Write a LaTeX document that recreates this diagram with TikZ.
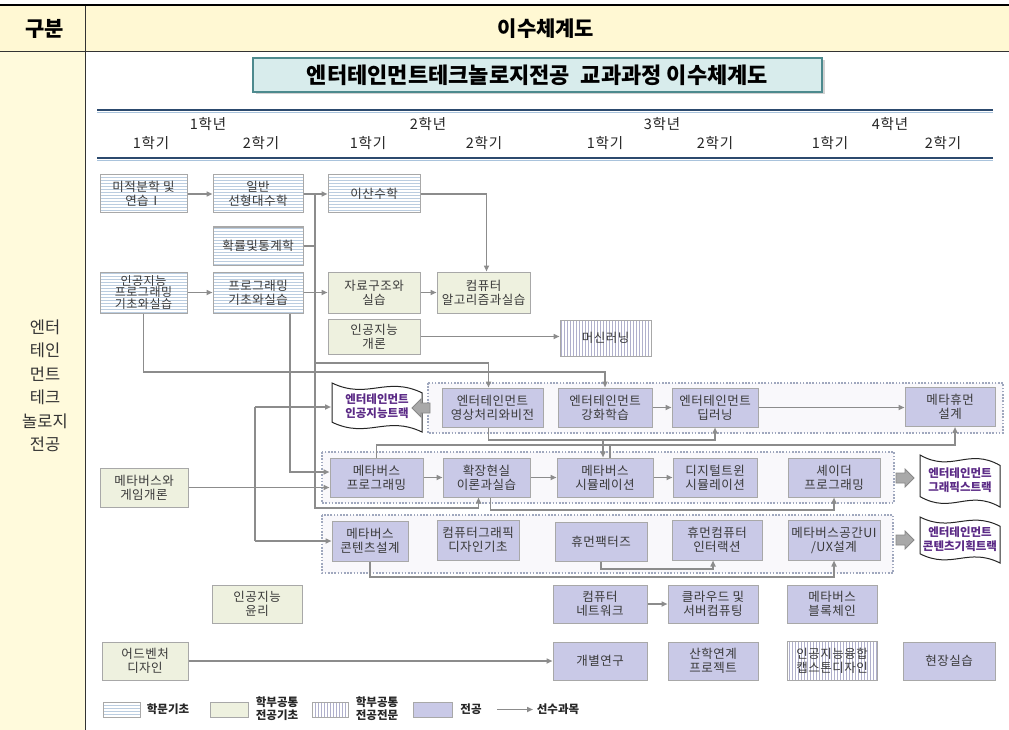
\documentclass[tikz,border=0pt]{standalone}
\usepackage{fontspec}
\setmainfont{Noto Sans CJK KR}
\newfontfamily\boxfont[LetterSpace=4]{Noto Sans CJK KR}
\newfontfamily\yearfont[LetterSpace=6]{Noto Sans CJK KR}
\usetikzlibrary{patterns,shadows,arrows.meta,calc}
\definecolor{hdryel}{HTML}{FFF8D3}
\definecolor{colyel}{HTML}{FFFADC}
\definecolor{boxline}{HTML}{A8A8A8}
\definecolor{majfill}{HTML}{C9C9E7}
\definecolor{greenfill}{HTML}{EEF1DF}
\definecolor{hatchH}{HTML}{BBCDE0}
\definecolor{hatchV}{HTML}{B0B0CC}
\definecolor{grpfill}{HTML}{F9F8FB}
\definecolor{grpline}{HTML}{A0A8BE}
\definecolor{arrgray}{HTML}{8C8C8C}
\definecolor{ttlfill}{HTML}{D8ECEC}
\definecolor{ttlline}{HTML}{4D8A8E}
\definecolor{yearline}{HTML}{2C4A6E}
\definecolor{yearglow}{HTML}{A9C3DC}
\definecolor{txtc}{HTML}{3A3A3A}
\definecolor{trackc}{HTML}{5B2A86}
\definecolor{blkfill}{HTML}{A9A9A9}
\definecolor{blkline}{HTML}{888888}
\newcommand\wavebanner[4]{%
  \draw[bannerline] (#1,#2) .. controls (#1+0.4*#3,#2+0.35*#4) and (#1+0.6*#3,#2-0.15*#4) .. (#1+#3,#2+0.2*#4)
    -- (#1+#3,#2+#4) .. controls (#1+0.6*#3,#2+0.65*#4) and (#1+0.4*#3,#2+1.15*#4) .. (#1,#2+0.8*#4) -- cycle;}
\begin{document}
\begin{tikzpicture}[x=1pt,y=-1pt,font=\boxfont\fontsize{12.5}{14}\selectfont,
  cbox/.style={draw=boxline,line width=1pt,align=center,text=txtc,inner sep=1pt,minimum height=38pt},
  hak/.style={cbox,preaction={fill=white},pattern=horizontal lines,pattern color=hatchH},
  gichu/.style={cbox,fill=greenfill},
  jeonmun/.style={cbox,preaction={fill=white},pattern=vertical lines,pattern color=hatchV},
  maj/.style={cbox,fill=majfill},
  grp/.style={draw=grpline,line width=1.6pt,dash pattern=on 1.6pt off 1.6pt,fill=grpfill},
  ln/.style={draw=arrgray,line width=1.5pt},
  arr/.style={ln,-{Triangle[length=6pt,width=5pt]}},
  bannerline/.style={draw=black!85,line width=1pt,fill=white},
  trk/.style={font=\fontsize{11.5}{13.5}\selectfont\bfseries,text=trackc,align=center},
  blk/.style={fill=blkfill,draw=blkline,line width=0.8pt},
  yline/.style={draw=yearline,line width=2.5pt},
  ylab/.style={font=\yearfont\fontsize{14.5}{16}\selectfont,text=black!85},
  lgt/.style={font=\fontsize{11.5}{13}\selectfont\bfseries,text=black!85,align=center}]
\useasboundingbox (0,0) rectangle (1009,730);
\fill[white] (0,0) rectangle (1009,730);
% table frame
\fill[hdryel] (0,6) rectangle (1009,51);
\fill[colyel] (0,51) rectangle (85,730);
\draw[black,line width=2.5pt] (0,5) -- (1009,5);
\draw[black!80,line width=0.8pt] (0,51.5) -- (1009,51.5);
\draw[black!80,line width=0.8pt] (85,6) -- (85,730);
\node[font=\fontsize{21}{23}\selectfont\bfseries] (hg) at (45,29) {구분};
\node[font=\fontsize{21}{23}\selectfont\bfseries] (he) at (546,29) {이수체계도};
\node[font=\fontsize{16.5}{23.5}\selectfont,align=center,text=black!80] (side) at (45,386) {엔터\\테인\\먼트\\테크\\놀로지\\전공};
% title
\node[draw=ttlline,line width=1.5pt,fill=ttlfill,minimum width=569pt,minimum height=34pt,
  drop shadow={shadow xshift=2.5pt,shadow yshift=-2.5pt,fill=black!35},
  font=\fontsize{22}{24}\selectfont\bfseries] (ttl) at (537.5,75) {엔터테인먼트테크놀로지전공\enspace 교과과정 이수체계도};
% year header
\draw[draw=yearglow,line width=1.2pt] (97,112.5) -- (993,112.5);
\draw[draw=yearglow,line width=1.2pt] (97,160.5) -- (993,160.5);
\draw[yline] (97,110) -- (993,110);
\draw[yline] (97,158) -- (993,158);
\node[ylab] (y1) at (208,124) {1학년};
\node[ylab] (y2) at (428,124) {2학년};
\node[ylab] (y3) at (662,124) {3학년};
\node[ylab] (y4) at (890,124) {4학년};
\node[ylab] (s1) at (151,143) {1학기};
\node[ylab] (s2) at (261,143) {2학기};
\node[ylab] (s3) at (368,143) {1학기};
\node[ylab] (s4) at (484,143) {2학기};
\node[ylab] (s5) at (605,143) {1학기};
\node[ylab] (s6) at (715,143) {2학기};
\node[ylab] (s7) at (830,143) {1학기};
\node[ylab] (s8) at (943,143) {2학기};
% groups
\draw[grp] (428,383) rectangle (1003,433);
\draw[grp] (322,452) rectangle (894,503);
\draw[grp] (322,515) rectangle (893,573);
% boxes
\node[hak,minimum width=87pt] (calc) at (143.5,194) {미적분학 및\\연습Ⅰ};
\node[hak,minimum width=90pt] (lin) at (258,194) {일반\\선형대수학};
\node[hak,minimum width=92pt] (disc) at (374,194) {이산수학};
\node[hak,minimum width=90pt] (prob) at (258,246) {확률및통계학};
\node[hak,minimum width=87pt,minimum height=41pt,font=\boxfont\fontsize{12}{11.5}\selectfont] (aip) at (143.5,292.5) {인공지능\\프로그래밍\\기초와실습};
\node[hak,minimum width=90pt,minimum height=41pt] (prog) at (258,292.5) {프로그래밍\\기초와실습};
\node[gichu,minimum width=92pt,minimum height=41pt] (ds) at (374,292.5) {자료구조와\\실습};
\node[gichu,minimum width=93pt,minimum height=41pt] (algo) at (483.5,292.5) {컴퓨터\\알고리즘과실습};
\node[gichu,minimum width=92pt,minimum height=35pt] (aii) at (374,336.5) {인공지능\\개론};
\node[jeonmun,minimum width=91pt,minimum height=36pt] (ml) at (605.5,338) {머신러닝};
% row 1
\node[maj,minimum width=101pt,minimum height=39pt] (vis) at (492.5,407.5) {엔터테인먼트\\영상처리와비전};
\node[maj,minimum width=94pt,minimum height=39pt] (rl) at (605,407.5) {엔터테인먼트\\강화학습};
\node[maj,minimum width=86pt,minimum height=39pt] (dl) at (715,407.5) {엔터테인먼트\\딥러닝};
\node[maj,minimum width=90pt,minimum height=39pt] (mh) at (950,407) {메타휴먼\\설계};
% row 2
\node[gichu,minimum width=88pt,minimum height=39pt] (game) at (144,487.5) {메타버스와\\게임개론};
\node[maj,minimum width=93pt,minimum height=39pt] (mp) at (376.5,477.5) {메타버스\\프로그래밍};
\node[maj,minimum width=87pt,minimum height=39pt] (xr) at (486.5,477.5) {확장현실\\이론과실습};
\node[maj,minimum width=96pt,minimum height=39pt] (msim) at (605,477.5) {메타버스\\시뮬레이션};
\node[maj,minimum width=84pt,minimum height=39pt] (dt) at (715,477.5) {디지털트윈\\시뮬레이션};
\node[maj,minimum width=92pt,minimum height=39pt] (sh) at (834,477.5) {셰이더\\프로그래밍};
% row 3
\node[maj,minimum width=76pt,minimum height=40pt] (mcd) at (370,541) {메타버스\\콘텐츠설계};
\node[maj,minimum width=82pt,minimum height=40pt] (cg) at (478,540) {컴퓨터그래픽\\디자인기초};
\node[maj,minimum width=92pt,minimum height=39pt] (hf) at (601,541.5) {휴먼팩터즈};
\node[maj,minimum width=90pt,minimum height=40pt] (hci) at (717,540) {휴먼컴퓨터\\인터랙션};
\node[maj,minimum width=92pt,minimum height=40pt] (ui) at (834,540) {메타버스공간UI\\/UX설계};
% row 4
\node[gichu,minimum width=90pt] (eth) at (257,604) {인공지능\\윤리};
\node[maj,minimum width=94pt] (net) at (600,604) {컴퓨터\\네트워크};
\node[maj,minimum width=90pt] (cloud) at (713,604) {클라우드 및\\서버컴퓨팅};
\node[maj,minimum width=90pt] (bc) at (832,604) {메타버스\\블록체인};
% row 5
\node[gichu,minimum width=86pt] (adv) at (145,661) {어드벤처\\디자인};
\node[maj,minimum width=94pt] (ind) at (600,661) {개별연구};
\node[maj,minimum width=90pt] (iac) at (713,661) {산학연계\\프로젝트};
\node[jeonmun,minimum width=90pt,minimum height=39pt] (cap) at (832,660.5) {인공지능융합\\캡스톤디자인};
\node[maj,minimum width=92pt] (field) at (949,661) {현장실습};
% banners
\wavebanner{332}{383}{90}{49}
\node[trk] (aib) at (377,406) {엔터테인먼트\\인공지능트랙};
\wavebanner{920}{455}{80}{52}
\node[trk] (gfb) at (960,480) {엔터테인먼트\\그래픽스트랙};
\wavebanner{920}{517}{80}{46}
\node[trk] (ctb) at (960,539) {엔터테인먼트\\콘텐츠기획트랙};
% block arrows
\draw[blk] (430,403) -- (421,403) -- (421,399) -- (412,408) -- (421,417) -- (421,413) -- (430,413) -- cycle;
\draw[blk] (896,473) -- (905,473) -- (905,469) -- (914,478) -- (905,487) -- (905,483) -- (896,483) -- cycle;
\draw[blk] (896,535) -- (905,535) -- (905,531) -- (914,540) -- (905,549) -- (905,545) -- (896,545) -- cycle;
% junction coordinates
\coordinate (j1) at (315,194);
\coordinate (j2) at (315,508);
\coordinate (j3) at (315,363);
\coordinate (k1) at (143.5,372);
\coordinate (k2) at (290,472);
\coordinate (k3) at (255,407);
\coordinate (k4) at (255,541);
\coordinate (aibw) at (331,407);
\coordinate (k5) at (488.5,440);
\coordinate (k6) at (603,440);
\coordinate (k7) at (377,445);
\coordinate (k8) at (490.5,510);
\coordinate (k9) at (370,577);
\coordinate (k10) at (601,569);
% connectors
\draw[arr] (calc.east) -- (lin.west);
\draw[arr] (lin.east) -- (disc.west);
\draw[arr] (j1) -- (j2) -| ([xshift=-8pt]xr.south);
\draw[ln] (prob.east) -- (prob.east -| j1);
\draw[arr] (j3) -| ([xshift=-4pt]vis.north);
\draw[arr] (disc.east) -| ([xshift=3pt]algo.north);
\draw[arr] (aip.east) -- (prog.west);
\draw[arr] (prog.east) -- (ds.west);
\draw[arr] (ds.east) -- (algo.west);
\draw[arr] (aii.east) -- (aii.east -| ml.west);
\draw[arr] (aip.south) -- (k1) -| (rl.north);
\draw[arr] ([xshift=32pt]prog.south) -- (k2) -- (k2 -| mp.west);
\draw[arr] (game.east) -- (game.east -| mp.west);
\draw[ln] (k3) -- (k4);
\draw[arr] (k3) -- (aibw);
\draw[arr] (k4) -- (k4 -| mcd.west);
\draw[arr] (rl.east) -- (rl.east -| dl.west);
\draw[arr] (dl.east) -- (dl.east -| mh.west);
\draw[arr] ([xshift=-4pt]vis.south) -- (k5) -| (dl.south);
\draw[arr] (k6) -- (k6 |- msim.north);
\draw[arr] (mp.north) -- (mp.north |- k7) -| ([xshift=5pt]mh.south);
\draw[ln] ([xshift=5pt]msim.north) -- ([xshift=5pt]msim.north |- k7);
\draw[arr] (mp.east) -- (xr.west);
\draw[arr] (xr.east) -- (msim.west);
\draw[arr] (msim.east) -- (dt.west);
\draw[arr] ([xshift=4pt]xr.south) -- (k8) -| (sh.south);
\draw[arr] (mcd.south) -- (k9) -| (ui.south);
\draw[arr] (hf.south) -- (k10) -| ([xshift=-4pt]hci.south);
\draw[arr] (net.east) -- (cloud.west);
\draw[arr] (adv.east) -- (adv.east -| ind.west);
% legend
\node[hak,minimum width=37pt,minimum height=15pt] (lg1) at (121.5,709.5) {};
\node[lgt] (lt1) at (168,709.5) {학문기초};
\node[gichu,minimum width=38pt,minimum height=15pt] (lg2) at (229,709.5) {};
\node[lgt] (lt2) at (277,709) {학부공통\\전공기초};
\node[jeonmun,minimum width=36pt,minimum height=15pt] (lg3) at (330,709.5) {};
\node[lgt] (lt3) at (377,709) {학부공통\\전공전문};
\node[maj,minimum width=39pt,minimum height=15pt] (lg4) at (432.5,709.5) {};
\node[lgt] (lt4) at (471,709.5) {전공};
\coordinate (la1) at (497,709.5);
\coordinate (la2) at (533,709.5);
\draw[arr] (la1) -- (la2);
\node[lgt] (lt5) at (558,709.5) {선수과목};
\end{tikzpicture}
\end{document}
